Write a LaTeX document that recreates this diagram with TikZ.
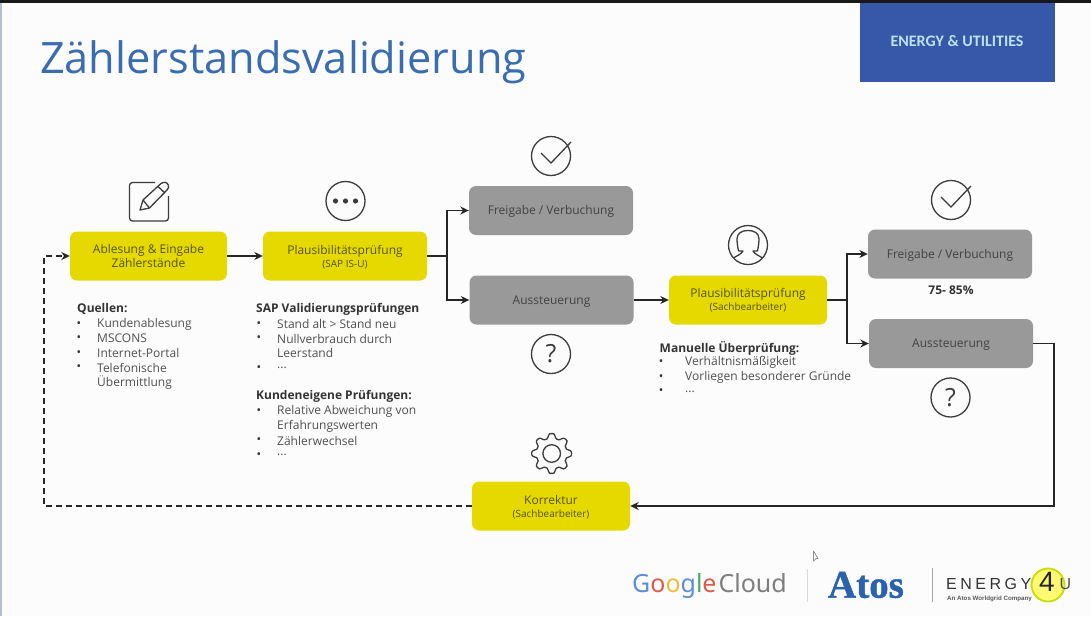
\documentclass[tikz,border=0pt]{standalone}
\usepackage{fontspec}
\setmainfont{Open Sans}
\newfontfamily\carlito{Carlito}
\newfontfamily\notos{Noto Sans}
\newfontfamily\atosfont[FakeBold=1.2]{Liberation Serif Bold}
\newfontfamily\libsans{Liberation Sans}
\usetikzlibrary{arrows.meta}
\definecolor{boxyellow}{HTML}{E6D900}
\definecolor{boxgray}{HTML}{999999}
\definecolor{ytext}{HTML}{55530C}
\definecolor{gtext}{HTML}{424242}
\definecolor{bodytext}{HTML}{505050}
\definecolor{headtext}{HTML}{333333}
\definecolor{icon}{HTML}{3C3C3C}
\definecolor{titleblue}{HTML}{3A6DB0}
\definecolor{bannerblue}{HTML}{3757A8}
\definecolor{bannertext}{HTML}{BCE2EE}
\definecolor{atosblue}{HTML}{2B62AE}
\definecolor{gblue}{HTML}{5B8DDB}
\definecolor{gred}{HTML}{DD5B4C}
\definecolor{gyellow}{HTML}{EDBE3A}
\definecolor{ggreen}{HTML}{4FA968}
\definecolor{ggray}{HTML}{7E7E7E}
\definecolor{edgeblue}{HTML}{B4BFD2}
\newcommand{\low}[1]{\raisebox{-1pt}[\height][\depth]{#1}}
\newcommand{\sub}[1]{{\fontsize{10}{12}\selectfont #1}}
\tikzset{
  flowbox/.style={rounded corners=7pt,inner sep=0pt,align=center,font=\fontsize{12}{14.5}\selectfont},
  ybox/.style={flowbox,fill=boxyellow,text=ytext},
  gbox/.style={flowbox,fill=boxgray,text=gtext},
  txt/.style={anchor=west,inner sep=0pt,yshift=-1.2pt,text=bodytext,font=\fontsize{12}{14}\selectfont},
  head/.style={anchor=west,inner sep=0pt,yshift=-1.2pt,text=headtext,font=\fontsize{12}{14}\selectfont\bfseries},
  bul/.style={anchor=center,inner sep=0pt,yshift=-1.5pt,text=headtext,font=\fontsize{12}{12}\selectfont},
  conn/.style={line width=1.8pt,color=black!85},
  arr/.style={conn,-{Stealth[length=8.5pt,width=8pt]}},
  dasharr/.style={arr,dash pattern=on 6pt off 4pt},
  ic/.style={line width=1.3pt,color=icon},
  qm/.style={inner sep=0pt,text=icon,font=\fontsize{25}{25}\selectfont}
}
\begin{document}
\begin{tikzpicture}[x=1pt,y=-1pt]
\useasboundingbox (0,0) rectangle (1091,616);
\fill[white!99!black] (0,0) rectangle (1091,616);
\fill[black!90] (0,0) rectangle (1091,3);
\fill[edgeblue] (0,3) rectangle (1.5,616);

% banner and title
\node[name=title,anchor=west,inner sep=0pt,text=titleblue,font=\fontsize{43.3}{46}\selectfont] at (40,62.5) {Zählerstandsvalidierung};
\fill[bannerblue] (859.5,3) rectangle (1054.5,82);
\node[name=banner,inner sep=0pt,text=bannertext,font=\carlito\bfseries\fontsize{16}{18}\selectfont] at (957,41) {ENERGY \& UTILITIES};

% flow boxes
\node[ybox,name=abl,minimum width=157pt,minimum height=49pt] at (148.5,256) {Ablesung \& Eingabe\\Zählerstände};
\node[ybox,name=pl1,minimum width=164pt,minimum height=49pt] at (345,256) {\low{Plausibilitätsprüfung}\\[-1pt]\low{\sub{(SAP IS-U)}}};
\node[gbox,name=fr1,minimum width=164pt,minimum height=49pt] at (551,210.5) {\low{Freigabe / Verbuchung}};
\node[gbox,name=au1,minimum width=164pt,minimum height=49pt] at (551.5,300) {\low{\low{Aussteuerung}}};
\node[ybox,name=pl2,minimum width=158pt,minimum height=49pt] at (748,300) {Plausibilitätsprüfung\\[-1pt]\sub{(Sachbearbeiter)}};
\node[gbox,name=fr2,minimum width=164pt,minimum height=49pt] at (950,254) {\low{Freigabe / Verbuchung}};
\node[gbox,name=au2,minimum width=164pt,minimum height=49pt] at (951,343.5) {\low{Aussteuerung}};
\node[ybox,name=kor,minimum width=158pt,minimum height=49pt] at (551,506) {\low{Korrektur}\\[-1pt]\low{\sub{(Sachbearbeiter)}}};

% connectors
\coordinate (j1) at (447,256);
\coordinate (j2) at (847,300);
\coordinate (cr) at (1054,506);
\coordinate (dl) at (44,506);
\coordinate (dt) at (44,256);
\draw[arr] (abl.east) -- (pl1.west);
\draw[conn] (pl1.east) -- (j1);
\draw[arr] (j1) |- (fr1.west);
\draw[arr] (j1) |- (au1.west);
\draw[arr] (au1.east) -- (pl2.west);
\draw[conn] (pl2.east) -- (j2);
\draw[arr] (j2) |- (fr2.west);
\draw[arr] (j2) |- (au2.west);
\draw[arr] (au2.east) -| (cr) -- (kor.east);
\draw[dasharr] (kor.west) -- (dl) -- (dt) -- (abl.west);

% lists
\node[head,name=h1] at (77,308) {Quellen:};
\node[bul,name=b11] at (79,323) {•};
\node[txt,name=t11] at (97,323) {Kundenablesung};
\node[bul,name=b12] at (79,337.5) {•};
\node[txt,name=t12] at (97,337.5) {MSCONS};
\node[bul,name=b13] at (79,352) {•};
\node[txt,name=t13] at (97,352) {Internet-Portal};
\node[bul,name=b14] at (79,366.5) {•};
\node[txt,name=t14] at (97,366.5) {Telefonische};
\node[txt,name=t15] at (97,381) {Übermittlung};

\node[head,name=h2] at (256,308) {SAP Validierungsprüfungen};
\node[bul,name=b21] at (259,323) {•};
\node[txt,name=t21] at (277,323) {Stand alt > Stand neu};
\node[bul,name=b22] at (259,337.5) {•};
\node[txt,name=t22] at (277,337.5) {Nullverbrauch durch};
\node[txt,name=t23] at (277,352) {Leerstand};
\node[bul,name=b24] at (259,367) {•};
\node[txt,name=t24] at (277,367) {...};

\node[head,name=h3] at (256,395.5) {Kundeneigene Prüfungen:};
\node[bul,name=b31] at (259,410) {•};
\node[txt,name=t31] at (277,410) {Relative Abweichung von};
\node[txt,name=t32] at (277,425) {Erfahrungswerten};
\node[bul,name=b33] at (259,439.5) {•};
\node[txt,name=t33] at (277,439.5) {Zählerwechsel};
\node[bul,name=b34] at (259,454) {•};
\node[txt,name=t34] at (277,454) {...};

\node[head,name=h4] at (659.5,347) {Manuelle Überprüfung:};
\node[bul,name=b41] at (661,361.5) {•};
\node[txt,name=t41] at (685,361.5) {Verhältnismäßigkeit};
\node[bul,name=b42] at (661,376) {•};
\node[txt,name=t42] at (685,376) {Vorliegen besonderer Gründe};
\node[bul,name=b43] at (661,390.5) {•};
\node[txt,name=t43] at (685,390.5) {...};

\node[head,name=pct,anchor=center] at (951,289) {75- 85\%};

% icons: pencil in a box
\draw[ic,rounded corners=3pt] (155,182.5) -- (129.5,182.5) -- (129.5,221) -- (168.5,221) -- (168.5,196);
\draw[ic,line join=round] (140,210) -- (143,200) -- (161,183.5) .. controls (164,181.5) and (167,182) .. (168.3,185) .. controls (169,187) and (168.5,188.5) .. (167,190) -- (149.5,208) -- cycle;
\draw[ic] (143,200) -- (149.5,208);
\draw[ic] (158,186.5) -- (165,193);
% icons: dots
\draw[ic] (345.5,201) circle[radius=19.5];
\foreach \dx in {335.5,345.5,355.5} \fill[icon] (\dx,201) circle[radius=2.6];
% icons: checks
\draw[ic] (551,156) circle[radius=19.5];
\draw[ic] (541,153) -- (551,163) -- (571,142);
\draw[ic] (951,200) circle[radius=19.5];
\draw[ic] (941,197) -- (951,207) -- (971,186);
% icons: questions
\draw[ic] (551,354) circle[radius=19.5];
\node[qm,name=q1] at (551,354) {?};
\draw[ic] (950.5,397.5) circle[radius=19.5];
\node[qm,name=q2] at (950.5,397.5) {?};
% icon: person
\draw[ic] (748,245) circle[radius=19.5];
\draw[ic,line join=round] (733.5,258) .. controls (737,255.5) and (741,254.5) .. (743,251) -- (738.5,251) .. controls (737.5,246) and (737,242) .. (737,239) .. controls (737,233) and (742,230.5) .. (748,230.5) .. controls (754,230.5) and (759,233) .. (759,239) .. controls (759,242) and (758.5,246) .. (757.5,251) -- (753,251) .. controls (755,254.5) and (759,255.5) .. (762.5,258);
% icon: gear
\draw[ic,line join=round,smooth cycle] plot[domain=0:356,samples=90] ({551.7+(17.6+2.3*max(min(1.5*cos(8*(\x)),1),-1))*cos(\x)},{453.5+(17.6+2.3*max(min(1.5*cos(8*(\x)),1),-1))*sin(\x)});
\draw[ic] (551.7,453.5) circle[radius=8.8];

% logos
\node[name=gc,anchor=west,inner sep=0pt,font=\notos\fontsize{25}{32}\selectfont] at (632,586) {\textcolor{gblue}{G}\textcolor{gred}{o}\textcolor{gyellow}{o}\textcolor{gblue}{g}\textcolor{ggreen}{l}\textcolor{gred}{e}\hspace{2pt}\textcolor{ggray}{Cloud}};
\draw[black!15,line width=1pt] (807,569) -- (807,602);
\node[name=atos,anchor=center,inner sep=0pt,text=atosblue,font=\atosfont\fontsize{39}{40}\selectfont] at (866,585) {Atos};
\draw[black!35,line width=1pt] (932.5,568) -- (932.5,602);
\fill[yellow!55!white] (1048,585) circle[radius=16.5];
\draw[boxyellow!85!green,line width=1.8pt] (1048,585) circle[radius=16.5];
\node[name=en,anchor=west,inner sep=0pt,text=black!80,font=\libsans\fontsize{16}{16}\selectfont] at (946,584) {E\hspace{3.5pt}N\hspace{3.5pt}E\hspace{3.5pt}R\hspace{3.5pt}G\hspace{3.5pt}Y};
\node[name=en4,anchor=center,inner sep=0pt,text=black!85,font=\libsans\fontsize{28}{28}\selectfont] at (1047,582) {4};
\node[name=enu,anchor=center,inner sep=0pt,text=black!70,font=\libsans\fontsize{16}{16}\selectfont] at (1065.5,584) {U};
\node[name=ensub,anchor=west,inner sep=0pt,text=black!65,font=\libsans\bfseries\fontsize{6.2}{8}\selectfont] at (947,598.5) {An Atos Worldgrid Company};
% pointer
\draw[black!45,fill=white,line width=.7pt,line join=round] (813.5,551) -- (813.5,561) -- (816,558.5) -- (818,558.5) -- cycle;
\end{tikzpicture}
\end{document}
